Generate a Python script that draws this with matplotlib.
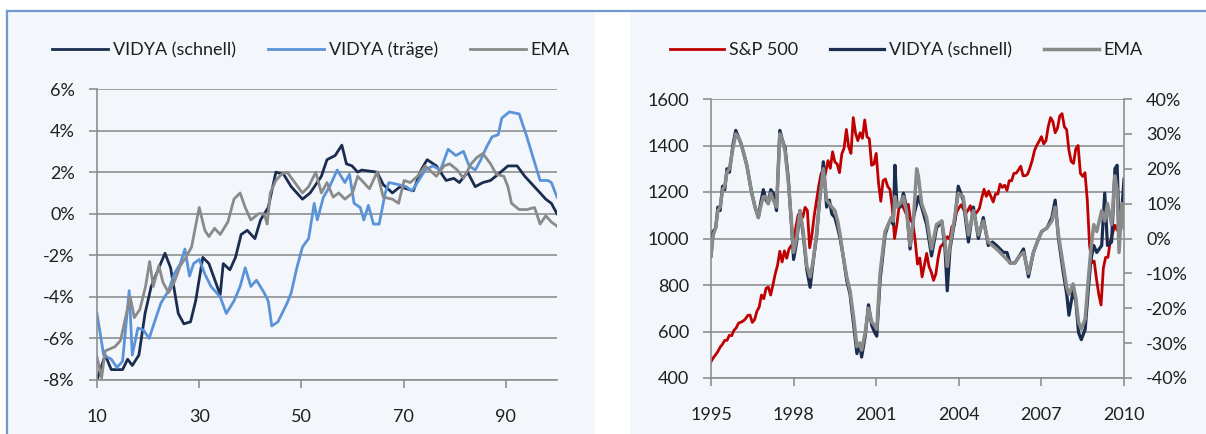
import numpy as np
import matplotlib
matplotlib.use("Agg")
import matplotlib.pyplot as plt
from matplotlib.patches import Rectangle
from matplotlib.lines import Line2D

plt.rcParams["font.family"] = ["Lato", "DejaVu Sans"]
plt.rcParams["font.size"] = 13

# ---- left chart: VIDYA (schnell), VIDYA (träge), EMA in %
fast_x = [10, 11.6, 12.8, 15, 16, 16.9, 18.2, 19.4, 20.6, 23.3, 24.4, 25.9, 27, 28.3, 29.3,
          30.7, 31.9, 34.1, 34.7, 36, 37.1, 38.2, 39.4, 40.9, 42, 43.5, 45, 46.5, 48, 50.2,
          51.7, 53.9, 55, 56.6, 57.9, 58.8, 59.9, 61, 61.8, 64.8, 66, 67.8, 69.3, 71.9, 73.4,
          74.6, 76.4, 78.3, 79.8, 80.9, 82.5, 84, 85.5, 87, 88.5, 90.4, 92.2, 93.7, 95.2,
          96.7, 97.8, 98.9, 100]
fast_y = [-8, -6.8, -7.5, -7.5, -7.0, -7.3, -6.8, -4.8, -3.5, -1.9, -2.6, -4.8, -5.3, -5.2, -4.2,
          -2.1, -2.4, -3.9, -2.4, -2.7, -2.1, -1.0, -0.8, -1.2, -0.3, 0.3, 2.0, 1.9, 1.3, 0.7,
          1.0, 1.8, 2.6, 2.8, 3.3, 2.4, 2.3, 2.0, 2.1, 2.0, 1.4, 1.0, 1.3, 1.1, 2.1,
          2.6, 2.3, 1.6, 1.7, 1.5, 2.0, 1.3, 1.5, 1.6, 1.9, 2.3, 2.3, 1.8, 1.4,
          1.0, 0.7, 0.5, 0.0]

slow_x = [10, 11.3, 12.8, 13.9, 15, 16.3, 16.9, 18, 19.1, 20.2, 21.4, 22.5, 24, 25.1, 26.3,
          27.2, 28.1, 28.9, 30, 31.1, 32.3, 34.1, 35.3, 36.8, 38, 39, 40.1, 41.2, 42.7, 43.5,
          44.2, 45.4, 47.2, 48, 49.1, 50.2, 51.4, 52.5, 53.1, 54.3, 55.5, 57, 58.5, 59.4,
          60.3, 61.5, 62.2, 63.1, 64.1, 65.2, 66.4, 67.1, 69, 70.5, 71.6, 72.7, 74.2, 75.7,
          77.2, 78.7, 80.2, 81.7, 82.8, 84, 85.1, 86.2, 87.3, 88.5, 89.2, 90.7, 92.6, 94.1,
          95.2, 96.7, 98.2, 98.9, 100]
slow_y = [-4.8, -6.8, -7.0, -7.4, -7.1, -3.7, -6.8, -5.5, -5.6, -6.0, -5.1, -4.3, -3.7, -2.9, -2.4,
          -1.7, -3.0, -2.4, -2.2, -2.9, -3.5, -4.0, -4.8, -4.2, -3.5, -2.6, -3.5, -3.2, -3.8, -4.2,
          -5.4, -5.2, -4.3, -3.8, -2.6, -1.6, -1.2, 0.5, -0.3, 0.8, 1.3, 2.1, 1.5, 1.9,
          0.5, 0.3, -0.3, 0.4, -0.5, -0.5, 1.0, 1.5, 1.4, 1.3, 1.1, 1.5, 2.1, 2.3,
          2.1, 3.1, 2.8, 3.0, 2.3, 2.1, 2.6, 3.2, 3.7, 3.8, 4.6, 4.9, 4.8, 3.7,
          2.8, 1.6, 1.6, 1.5, 0.8]

ema_x = [10, 10.9, 11.6, 13.5, 14.6, 15.4, 16.5, 17.3, 18.4, 19.5, 20.3, 21, 22.1, 22.9, 24,
         25.1, 26.3, 27.4, 28.5, 30, 31.1, 31.9, 33, 34.1, 35.6, 36.8, 38, 39, 40.1, 41.6,
         42.7, 43.3, 43.9, 45, 46.1, 47.2, 48.7, 50.2, 51.4, 52.8, 53.9, 55, 56.2, 57.3,
         58.5, 60, 61, 61.8, 63.3, 64.8, 66, 67.8, 69, 70.1, 71.3, 72.7, 74.2, 76.4, 77.9,
         79, 80.5, 81.7, 83.2, 84.3, 85.5, 87, 88.1, 89.6, 90.4, 91.1, 92.6, 94.1, 95.6,
         96.7, 97.8, 98.9, 100]
ema_y = [-6.9, -7.9, -6.6, -6.4, -6.1, -5.2, -4.0, -5.0, -4.6, -3.5, -2.3, -3.5, -2.5, -3.3, -3.8,
         -3.3, -2.5, -2.1, -1.6, 0.3, -0.8, -1.1, -0.7, -1.0, -0.4, 0.7, 1.0, 0.3, -0.3, 0.0,
         0.0, -0.5, 1.0, 1.6, 1.9, 2.0, 1.5, 1.0, 1.3, 2.0, 1.0, 1.5, 0.8, 1.0,
         0.7, 1.0, 1.8, 1.6, 1.2, 2.0, 0.8, 0.7, 0.5, 1.6, 1.5, 1.8, 2.3, 1.8, 2.3,
         2.4, 2.1, 1.7, 2.4, 2.7, 2.9, 2.4, 1.9, 1.8, 1.3, 0.5, 0.2, 0.2, 0.3,
         -0.5, -0.1, -0.4, -0.6]

left_xticks = [10, 30, 50, 70, 90]
left_yticks = [-8, -6, -4, -2, 0, 2, 4, 6]

# ---- right chart: S&P 500 (monthly, from Jan 1995) and oscillators in %
sp500 = [470, 487, 500, 514, 533, 545, 562, 562, 584, 582, 605, 616,
         636, 640, 645, 654, 669, 671, 639, 651, 687, 705, 757, 741,
         786, 791, 757, 801, 848, 885, 945, 899, 947, 915, 955, 970,
         980, 1049, 1102, 1112, 1091, 1134, 1121, 960, 1017, 1099, 1164, 1229,
         1280, 1238, 1286, 1335, 1302, 1373, 1329, 1320, 1283, 1363, 1389, 1469,
         1394, 1366, 1520, 1452, 1421, 1455, 1431, 1510, 1437, 1429, 1315, 1320,
         1366, 1240, 1160, 1249, 1256, 1224, 1211, 1134, 1000, 1060, 1139, 1148,
         1130, 1107, 1147, 1077, 1067, 990, 890, 916, 835, 886, 936, 880,
         856, 820, 848, 917, 964, 975, 990, 1008, 996, 1051, 1058, 1112,
         1131, 1145, 1126, 1107, 1121, 1141, 1102, 1104, 1115, 1130, 1174, 1212,
         1181, 1204, 1181, 1157, 1192, 1191, 1234, 1220, 1229, 1207, 1249, 1248,
         1280, 1281, 1295, 1311, 1270, 1270, 1277, 1304, 1336, 1378, 1401, 1418,
         1438, 1407, 1421, 1482, 1520, 1503, 1455, 1474, 1527, 1537, 1481, 1468,
         1379, 1331, 1323, 1386, 1400, 1280, 1267, 1283, 1165, 969, 896, 903,
         826, 760, 714, 873, 919, 919, 987, 1021, 1057, 1036, 1096, 1115,
         1085]

osc_years = [1995.00, 1995.08, 1995.17, 1995.25, 1995.33, 1995.42, 1995.50, 1995.58, 1995.67,
             1995.80, 1995.90, 1996.00, 1996.10, 1996.30, 1996.48, 1996.60, 1996.72, 1996.80,
             1996.90, 1997.00, 1997.08, 1997.17, 1997.26, 1997.38, 1997.50, 1997.60, 1997.69,
             1997.81, 1997.93, 1998.00, 1998.11, 1998.23, 1998.35, 1998.48, 1998.60, 1998.72,
             1998.84, 1998.96, 1999.08, 1999.20, 1999.30, 1999.39, 1999.50, 1999.60, 1999.69,
             1999.80, 1999.93, 2000.05, 2000.17, 2000.30, 2000.40, 2000.47, 2000.60, 2000.72,
             2000.84, 2000.95, 2001.02, 2001.14, 2001.32, 2001.44, 2001.55, 2001.62, 2001.68,
             2001.75, 2001.87, 2001.99, 2002.10, 2002.23, 2002.35, 2002.47, 2002.53, 2002.65,
             2002.83, 2003.01, 2003.19, 2003.38, 2003.50, 2003.58, 2003.68, 2003.85, 2003.98,
             2004.16, 2004.35, 2004.53, 2004.71, 2004.89, 2005.07, 2005.22, 2005.37, 2005.50,
             2005.62, 2005.75, 2005.86, 2006.04, 2006.20, 2006.35, 2006.53, 2006.71, 2006.85,
             2007.01, 2007.20, 2007.38, 2007.50, 2007.62, 2007.80, 2007.92, 2008.00, 2008.15,
             2008.25, 2008.35, 2008.45, 2008.59, 2008.70, 2008.80, 2008.90, 2009.01, 2009.19,
             2009.30, 2009.40, 2009.55, 2009.67, 2009.75, 2009.82, 2009.92, 2010.00]
vidya_fast = [-5, 2, 3, 9, 8, 15, 14, 20, 19,
              27, 31, 29, 27, 21, 13, 9, 6, 10,
              14, 11, 10, 14, 13, 8, 31, 28, 26,
              17, 3, -6, -1, 8, 1, -9, -14, -6,
              1, 13, 22, 9, 11, 7, 6, 3, 0,
              -5, -12, -16, -24, -33, -30, -34, -28, -19,
              -25, -27, -28, -12, 1, 4, 6, 4, 21,
              10, 9, 13, 9, -3, 6, 10, 12, 9,
              4, -5, 3, 5, -3, -15, -3, 5, 15,
              11, -1, 9, 0, 6, -2, -1, -2, -3,
              -4, -4, -7, -7, -5, -3, -11, -4, -1,
              2, 3, 6, 11, 0, -10, -16, -22, -15,
              -18, -27, -29, -26, -15, -6, -2, -4, -2,
              13, -2, -1, 20, 21, 3, 8, 17]
ema = [-5, 1, 3, 8, 9, 14, 15, 19, 20,
       26, 30, 29, 27, 21, 13, 9, 6, 9,
       12, 12, 10, 13, 11, 9, 30, 28, 25,
       16, 4, -4, 0, 8, 2, -8, -11, -6,
       2, 12, 20, 11, 10, 9, 8, 5, 1,
       -5, -11, -15, -22, -31, -30, -32, -27, -20,
       -24, -25, -26, -10, 2, 4, 6, 5, 12,
       9, 10, 12, 8, -2, 5, 20, 18, 10,
       6, -3, 4, 5, -1, -8, -2, 6, 13,
       12, 1, 8, 1, 5, -1, -2, -3, -4,
       -5, -6, -7, -7, -5, -4, -10, -4, -1,
       2, 3, 5, 9, 1, -8, -14, -16, -13,
       -17, -24, -26, -23, -12, -3, 4, 2, 8,
       5, 10, 4, 18, 14, -4, 10, 3]

right_xticks = [1995, 1998, 2001, 2004, 2007, 2010]
sp_ticks = [400, 600, 800, 1000, 1200, 1400, 1600]
pct_ticks = [-40, -30, -20, -10, 0, 10, 20, 30, 40]

NAVY = "#1B2D4F"
LBLUE = "#5B93D9"
GREY = "#8A8A8A"
RED = "#C00000"
GRID = "#8F8F8F"
BG = "#F3F7FB"
FRAME = "#6F9AD0"
TXT = "#1F1F1F"

W, H = 1206, 434
fig = plt.figure(figsize=(W / 100, H / 100), dpi=100)
fig.patch.set_facecolor("white")

# panel backgrounds and frame
fig.patches.append(Rectangle((7 / W, 0), (595 - 7) / W, 1 - 11 / H, transform=fig.transFigure,
                             facecolor=BG, edgecolor="none", zorder=-10))
fig.patches.append(Rectangle((630 / W, 0), (W - 630) / W, 1 - 11 / H, transform=fig.transFigure,
                             facecolor=BG, edgecolor="none", zorder=-10))
fig.add_artist(Line2D([7 / W, 1], [1 - 11 / H, 1 - 11 / H], transform=fig.transFigure,
                      color=FRAME, lw=1.6, zorder=-5))
fig.add_artist(Line2D([7 / W, 7 / W], [0, 1 - 11 / H], transform=fig.transFigure,
                      color=FRAME, lw=1.6, zorder=-5))


def style_axis(ax):
    ax.set_facecolor("none")
    for s in ["top", "right"]:
        ax.spines[s].set_visible(False)
    for s in ["left", "bottom"]:
        ax.spines[s].set_color(GRID)
        ax.spines[s].set_linewidth(1.2)
    ax.grid(axis="y", color=GRID, lw=1.2)
    ax.set_axisbelow(True)
    ax.tick_params(axis="y", direction="out", length=6, width=1.2, color=GRID,
                   pad=10, labelcolor=TXT, labelsize=13)
    ax.tick_params(axis="x", direction="out", length=6, width=1.2, color=GRID,
                   pad=15, labelcolor=TXT, labelsize=13)


# left chart
ax1 = fig.add_axes([97 / W, 1 - 380 / H, 460 / W, 291 / H])
style_axis(ax1)
ax1.plot(fast_x, fast_y, color=NAVY, lw=2.0, label="VIDYA (schnell)")
ax1.plot(slow_x, slow_y, color=LBLUE, lw=2.0, label="VIDYA (träge)")
ax1.plot(ema_x, ema_y, color=GREY, lw=2.0, label="EMA")
ax1.set_xlim(10, 100)
ax1.set_ylim(-8, 6)
ax1.set_xticks(left_xticks)
ax1.set_yticks(left_yticks)
ax1.set_yticklabels([f"{v}%" for v in left_yticks])
h1, l1 = ax1.get_legend_handles_labels()
fig.legend(h1, l1, ncol=3, loc="center", bbox_to_anchor=(311 / W, 1 - 50 / H),
           frameon=False, handlelength=3.1, handletextpad=0.25, columnspacing=1.8,
           fontsize=13, labelcolor=TXT)

# right chart
ax2 = fig.add_axes([711 / W, 1 - 378 / H, 413 / W, 279 / H])
style_axis(ax2)
sp_years = 1995 + np.arange(len(sp500)) / 12
l_sp, = ax2.plot(sp_years, sp500, color=RED, lw=2.0, label="S&P 500")
ax2.set_xlim(1995, 2010)
ax2.set_ylim(400, 1600)
ax2.set_xticks(right_xticks)
ax2.set_yticks(sp_ticks)

ax3 = ax2.twinx()
ax3.set_facecolor("none")
for s in ["top", "left", "bottom"]:
    ax3.spines[s].set_visible(False)
ax3.spines["right"].set_color(GRID)
ax3.spines["right"].set_linewidth(1.2)
l_vf, = ax3.plot(osc_years, vidya_fast, color=NAVY, lw=2.3, label="VIDYA (schnell)")
l_ema, = ax3.plot(osc_years, ema, color=GREY, lw=2.5, label="EMA")
ax3.set_ylim(-40, 40)
ax3.set_yticks(pct_ticks)
ax3.set_yticklabels([f"{v}%" for v in pct_ticks])
ax3.tick_params(axis="y", direction="out", length=6, width=1.2, color=GRID,
                pad=10, labelcolor=TXT, labelsize=13)
fig.legend([l_sp, l_vf, l_ema], ["S&P 500", "VIDYA (schnell)", "EMA"], ncol=3, loc="center",
           bbox_to_anchor=(906 / W, 1 - 50 / H), frameon=False, handlelength=3.0,
           handletextpad=0.25, columnspacing=1.8, fontsize=13, labelcolor=TXT)

fig.savefig("out.png", dpi=100, facecolor=fig.get_facecolor())
